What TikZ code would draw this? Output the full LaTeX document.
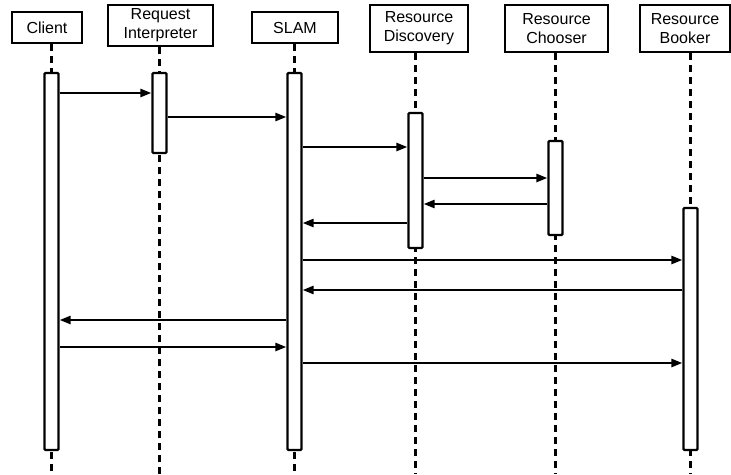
\documentclass[tikz,border=0pt]{standalone}
\usepackage{fontspec}
\setmainfont{Liberation Sans}
\usetikzlibrary{arrows.meta,backgrounds}

\begin{document}
\begin{tikzpicture}[
  x=1pt, y=-1pt,
  head/.style={draw, line width=2.2pt, fill=white, align=center, inner sep=0pt, font=\fontsize{16}{19}\selectfont},
  act/.style={draw, line width=2.2pt, fill=white, rounded corners=1pt, minimum width=14pt, inner sep=0pt},
  life/.style={line width=3pt, dash pattern=on 7pt off 5pt},
  msg/.style={line width=2.4pt, -{Triangle[length=11pt,width=8pt]}}
]
\useasboundingbox (0,0) rectangle (731,474);

% participants
\node[head, minimum width=70pt, minimum height=31pt] (client) at (47,27.5) {Client};
\node[head, minimum width=105pt, minimum height=41pt] (interp) at (160.5,25.5) {Request\\Interpreter};
\node[head, minimum width=86pt, minimum height=31pt] (slam) at (295,27.5) {SLAM};
\node[head, minimum width=98pt, minimum height=47pt] (disc) at (419,28.5) {Resource\\Discovery};
\node[head, minimum width=103pt, minimum height=47pt] (choose) at (556.5,28.5) {Resource\\Chooser};
\node[head, minimum width=90pt, minimum height=47pt] (book) at (685,28.5) {Resource\\Booker};

% activations
\node[act, minimum height=377pt] (clientA) at (51.5,261.5) {};
\node[act, minimum height=80pt] (interpA) at (159.5,113) {};
\node[act, minimum height=377pt] (slamA) at (294.5,261.5) {};
\node[act, minimum height=135pt] (discA) at (415.5,180.5) {};
\node[act, minimum height=94pt] (chooseA) at (555.5,188) {};
\node[act, minimum height=242pt] (bookA) at (690.5,329) {};

% lifelines
\begin{scope}[on background layer]
\foreach \p in {client,interp,slam,disc,choose,book}
  \draw[life] (\p A.center |- \p.south) -- (\p A.center |- 0,474);
\end{scope}

% messages
\draw[msg] (clientA.east |- 0,93) -- (interpA.west |- 0,93);
\draw[msg] (interpA.east |- 0,117) -- (slamA.west |- 0,117);
\draw[msg] (slamA.east |- 0,147) -- (discA.west |- 0,147);
\draw[msg] (discA.east |- 0,178) -- (chooseA.west |- 0,178);
\draw[msg] (chooseA.west |- 0,204) -- (discA.east |- 0,204);
\draw[msg] (discA.west |- 0,223) -- (slamA.east |- 0,223);
\draw[msg] (slamA.east |- 0,260) -- (bookA.west |- 0,260);
\draw[msg] (bookA.west |- 0,290) -- (slamA.east |- 0,290);
\draw[msg] (slamA.west |- 0,320) -- (clientA.east |- 0,320);
\draw[msg] (clientA.east |- 0,347) -- (slamA.west |- 0,347);
\draw[msg] (slamA.east |- 0,363) -- (bookA.west |- 0,363);
\end{tikzpicture}
\end{document}
